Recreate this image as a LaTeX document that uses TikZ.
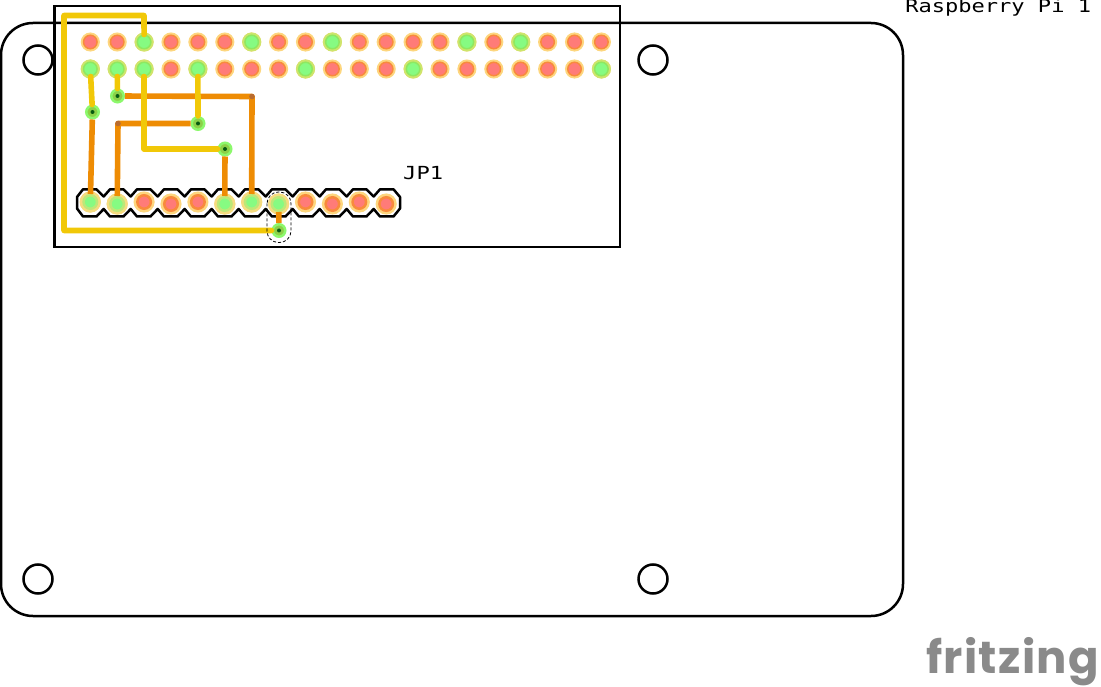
\documentclass[tikz,border=0pt]{standalone}
\usepackage{fontspec}
\newfontfamily\silkfont{DejaVu Sans Mono}
\newfontfamily\logofont[LetterSpace=3]{Poppins}
\usetikzlibrary{shapes}
\usetikzlibrary{arrows}
\definecolor{redfill}{HTML}{FF7B78}
\definecolor{redring}{HTML}{F88A3C}
\definecolor{redhalo}{HTML}{FDD67E}
\definecolor{greenfill}{HTML}{86FB82}
\definecolor{greenring}{HTML}{8FE860}
\definecolor{greenhalo}{HTML}{CDE56C}
\definecolor{headhalo}{HTML}{F5DC80}
\definecolor{headring}{HTML}{BCE878}
\definecolor{viahalo}{HTML}{8CF86C}
\definecolor{viacore}{HTML}{8CD048}
\definecolor{drillgreen}{HTML}{065A10}
\definecolor{jumpyellow}{HTML}{F1C808}
\definecolor{traceorange}{HTML}{EE8C04}
\definecolor{cornerbrown}{HTML}{B96C30}
\definecolor{logogray}{HTML}{8A8A8A}

\begin{document}
\begin{tikzpicture}[x=1pt,y=-1pt]
	\tikzstyle{redpin}=[circle,inner sep=0,minimum size=13.5pt,fill=redfill,draw=redring,line width=1.5pt,preaction={draw=redhalo,line width=5.5pt}]
	\tikzstyle{greenpin}=[redpin,fill=greenfill,draw=greenring,preaction={draw=greenhalo,line width=5.5pt}]
	\tikzstyle{redhead}=[circle,inner sep=0,minimum size=13.5pt,fill=redfill,draw=redring,line width=2.5pt,preaction={draw=redhalo,line width=7.5pt}]
	\tikzstyle{greenhead}=[redhead,fill=greenfill,draw=headring,preaction={draw=headhalo,line width=7.5pt}]
	\tikzstyle{via}=[circle,inner sep=0,minimum size=12.5pt,fill=viacore,draw=viahalo,line width=2.5pt]
	\tikzstyle{drill}=[circle,inner sep=0,minimum size=4pt,fill=drillgreen]
	\tikzstyle{hole}=[circle,inner sep=0,minimum size=29pt,draw,line width=2.5pt]
	\tikzstyle{yellowwire}=[draw=jumpyellow,line width=5.6pt,line join=round,line cap=round]
	\tikzstyle{orangewire}=[draw=traceorange,line width=5.6pt,line join=round]
	\tikzstyle{silk}=[inner sep=0,anchor=base west,font=\silkfont\fontsize{18}{18}\selectfont,xscale=1.225]
	\useasboundingbox (0,0) rectangle (1101,687);

	\draw[line width=2.5pt,rounded corners=32pt] (1,23) rectangle (903,616);
	\draw[line width=2.5pt] (54.5,6) rectangle (620,247);
	\node[hole] (hole1) at (38,60) {};
	\node[hole] (hole2) at (653,60) {};
	\node[hole] (hole3) at (38,579) {};
	\node[hole] (hole4) at (653,579) {};

	\foreach \i/\s in {0/redpin,1/redpin,2/greenpin,3/redpin,4/redpin,5/redpin,6/greenpin,7/redpin,8/redpin,9/greenpin,10/redpin,11/redpin,12/redpin,13/redpin,14/greenpin,15/redpin,16/greenpin,17/redpin,18/redpin,19/redpin}
		\node[\s] (top\i) at ({90.3+26.9*\i},42) {};
	\foreach \i/\s in {0/greenpin,1/greenpin,2/greenpin,3/redpin,4/greenpin,5/redpin,6/redpin,7/redpin,8/greenpin,9/redpin,10/redpin,11/redpin,12/greenpin,13/redpin,14/redpin,15/redpin,16/redpin,17/redpin,18/redpin,19/greenpin}
		\node[\s] (bot\i) at ({90.3+26.9*\i},69) {};

	\draw[line width=2.5pt,line join=round] (77,197) \foreach \i in {0,...,10} {-- ({83+27*\i},189.3) -- ({96.5+27*\i},189.3) -- ({103.7+27*\i},196.5)} -- (380,189.3) -- (393.5,189.3) -- (400,197) -- (400,208.5) -- (393.5,216.5) -- (380,216.5) \foreach \i in {10,...,0} {-- ({103.7+27*\i},209) -- ({96.5+27*\i},216.5) -- ({83+27*\i},216.5)} -- (77,208.5) -- cycle;
	\foreach \i/\s/\y in {0/greenhead/202,1/greenhead/204,2/redhead/202,3/redhead/204,4/redhead/202,5/greenhead/204,6/greenhead/202,7/greenhead/204,8/redhead/202,9/redhead/204,10/redhead/202,11/redhead/204}
		\node[\s] (jp\i) at ({90.3+26.9*\i},\y) {};

	\node[via] (via1) at (92.5,112) {};
	\node[via] (via2) at (117.5,96) {};
	\node[via] (via3) at (198,123.5) {};
	\node[via] (via4) at (225,149) {};
	\node[via] (via5) at (279,230.5) {};
	\coordinate (cornerA) at (252,96.5);
	\coordinate (cornerB) at (118,123.5);
	\coordinate (loopA) at (144,15.5);
	\coordinate (loopB) at (64,15.5);
	\coordinate (loopC) at (64,230.5);

	\draw[orangewire] (via1) -- (jp0);
	\draw[orangewire] (via2) -- (cornerA) -- (jp6);
	\draw[orangewire] (via3) -- (cornerB) -- (jp1);
	\draw[orangewire] (via4) -- (jp5);
	\draw[orangewire] (via5) -- (jp7);
	\fill[cornerbrown] (cornerA) circle (2.8pt) (cornerB) circle (2.8pt);

	\draw[yellowwire] (top2) -- (loopA) -- (loopB) -- (loopC) -- (via5);
	\draw[yellowwire] (bot0) -- (via1);
	\draw[yellowwire] (bot1) -- (via2);
	\draw[yellowwire] (bot2) |- (via4);
	\draw[yellowwire] (bot4) -- (via3);

	\foreach \v in {via1,via2,via3,via4,via5}
		\node[drill] (\v drill) at (\v) {};

	\draw[densely dashed,line width=0.8pt,rounded corners=11.5pt] (267,192) rectangle (291,242.5);

	\node[silk] (boardname) at (905,12.3) {Raspberry Pi 1};
	\node[silk] (headername) at (403,180) {JP1};
	\node[inner sep=0,anchor=base west,text=logogray,font=\logofont\bfseries\fontsize{45}{45}\selectfont] (logo) at (926,673) {fritzing};
\end{tikzpicture}
\end{document}
